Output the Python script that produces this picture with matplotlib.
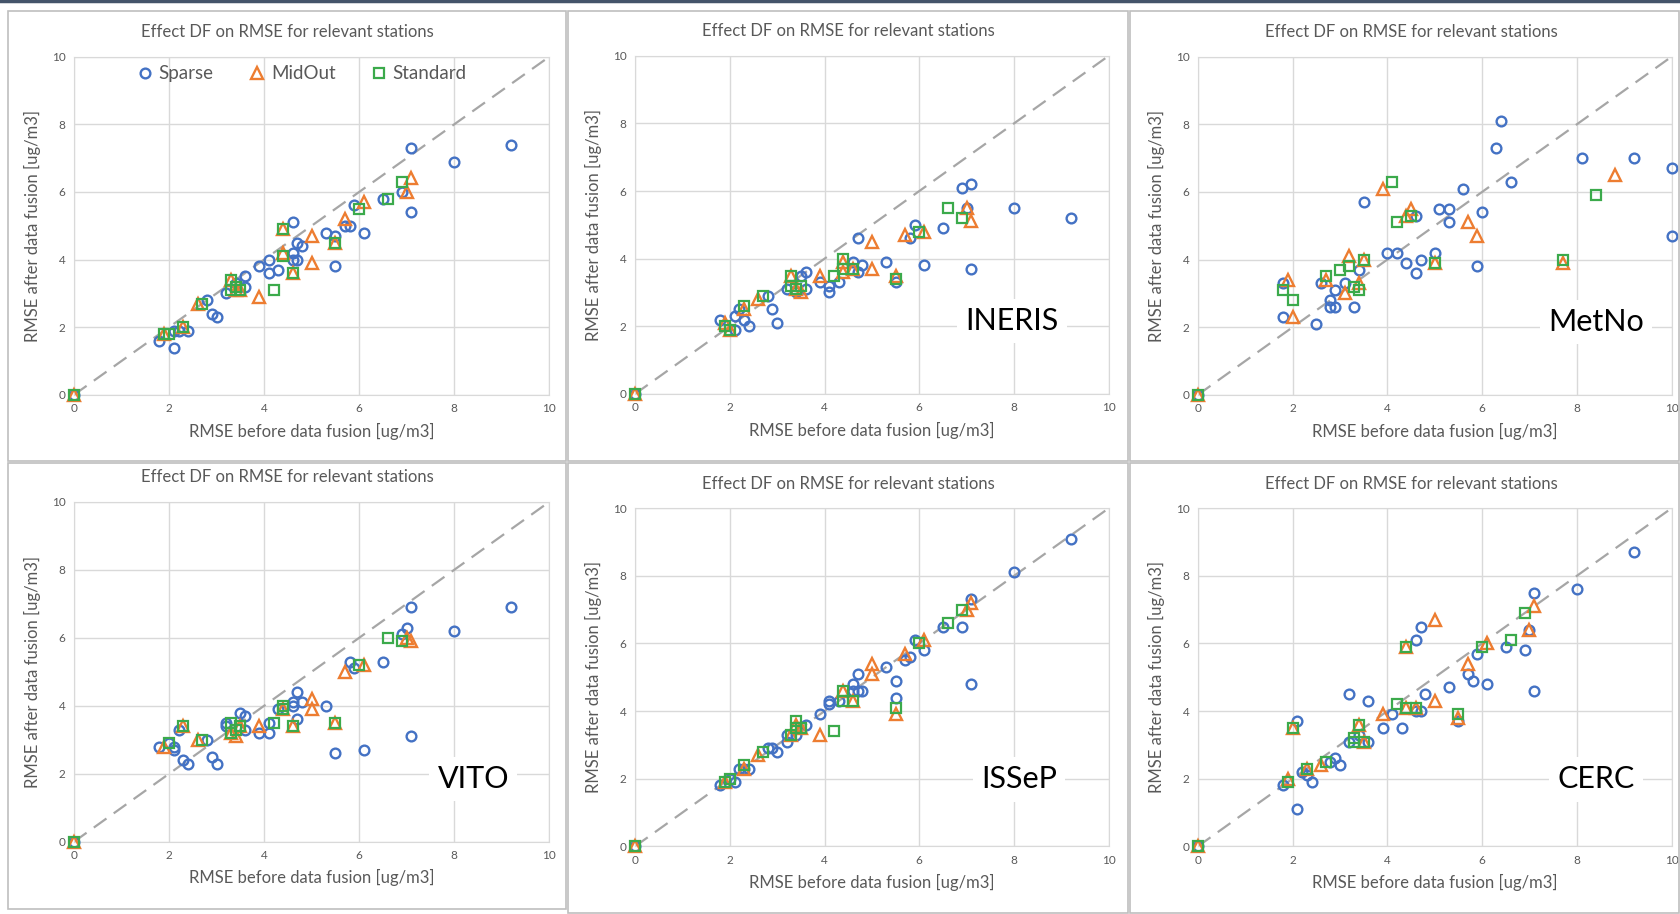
import matplotlib
matplotlib.use("Agg")
import matplotlib.pyplot as plt
from matplotlib.patches import Rectangle

plt.rcParams['font.family'] = ['Lato', 'DejaVu Sans']

# ---- data: RMSE before (x) / after (y) data fusion ----
# panel 1 (legend panel)
p1_sparse_x = [0, 1.8, 2.1, 2.1, 2.2, 2.4, 2.8, 2.9, 3.0, 3.2, 3.4, 3.6, 3.6, 3.9, 4.1, 4.1, 4.3, 4.6, 4.6, 4.6, 4.7, 4.7, 4.8, 5.3, 5.5, 5.5, 5.7, 5.8, 5.9, 6.1, 6.5, 6.9, 7.1, 7.1, 8.0, 9.2]
p1_sparse_y = [0, 1.6, 1.4, 1.9, 1.9, 1.9, 2.8, 2.4, 2.3, 3.0, 3.3, 3.5, 3.2, 3.8, 4.0, 3.6, 3.7, 5.1, 4.2, 4.0, 4.5, 4.0, 4.4, 4.8, 4.7, 3.8, 5.0, 5.0, 5.6, 4.8, 5.8, 6.0, 7.3, 5.4, 6.9, 7.4]
p1_midout_x = [0, 1.9, 2.3, 2.6, 3.3, 3.4, 3.5, 3.9, 4.4, 4.4, 4.6, 5.0, 5.0, 5.5, 5.7, 6.1, 7.0, 7.1]
p1_midout_y = [0, 1.8, 2.0, 2.7, 3.4, 3.1, 3.1, 2.9, 4.9, 4.2, 3.6, 4.7, 3.9, 4.5, 5.2, 5.7, 6.0, 6.4]
p1_standard_x = [0, 1.9, 2.0, 2.3, 2.7, 3.3, 3.3, 3.4, 3.5, 4.2, 4.4, 4.4, 4.6, 5.5, 6.0, 6.6, 6.9]
p1_standard_y = [0, 1.8, 1.8, 2.0, 2.7, 3.4, 3.1, 3.2, 3.1, 3.1, 4.9, 4.1, 3.6, 4.5, 5.5, 5.8, 6.3]

# panel 2 INERIS
p2_sparse_x = [0, 1.8, 2.1, 2.1, 2.2, 2.3, 2.4, 2.8, 2.9, 3.0, 3.2, 3.4, 3.5, 3.6, 3.6, 3.9, 4.1, 4.1, 4.3, 4.6, 4.7, 4.7, 4.8, 5.3, 5.5, 5.8, 5.9, 6.1, 6.5, 6.9, 7.1, 7.0, 7.1, 8.0, 9.2]
p2_sparse_y = [0, 2.2, 1.9, 2.3, 2.5, 2.2, 2.0, 2.9, 2.5, 2.1, 3.1, 3.0, 3.5, 3.6, 3.1, 3.3, 3.2, 3.0, 3.3, 3.9, 4.6, 3.6, 3.8, 3.9, 3.3, 4.6, 5.0, 3.8, 4.9, 6.1, 6.2, 5.5, 3.7, 5.5, 5.2]
p2_midout_x = [0, 1.9, 2.0, 2.3, 2.6, 3.3, 3.4, 3.5, 3.9, 4.4, 4.4, 4.6, 5.0, 5.0, 5.5, 5.7, 6.1, 7.0, 7.1]
p2_midout_y = [0, 2.1, 1.9, 2.5, 2.8, 3.5, 3.1, 3.0, 3.5, 3.6, 3.9, 3.7, 4.5, 3.7, 3.5, 4.7, 4.8, 5.5, 5.1]
p2_standard_x = [0, 1.9, 2.0, 2.3, 2.7, 3.3, 3.3, 3.4, 3.5, 4.2, 4.4, 4.4, 4.6, 5.5, 6.0, 6.6, 6.9]
p2_standard_y = [0, 2.0, 1.9, 2.6, 2.9, 3.5, 3.2, 3.1, 3.2, 3.5, 4.0, 3.7, 3.7, 3.4, 4.8, 5.5, 5.2]

# panel 3 MetNo
p3_sparse_x = [0, 1.8, 1.8, 2.5, 2.6, 2.8, 2.8, 2.9, 2.9, 3.1, 3.3, 3.4, 3.5, 4.0, 4.2, 4.4, 4.6, 4.6, 4.7, 5.0, 5.1, 5.3, 5.3, 5.6, 5.9, 6.0, 6.3, 6.4, 6.6, 8.1, 9.2, 10.0, 10.0]
p3_sparse_y = [0, 3.3, 2.3, 2.1, 3.3, 2.8, 2.6, 2.6, 3.1, 3.3, 2.6, 3.7, 5.7, 4.2, 4.2, 3.9, 5.3, 3.6, 4.0, 4.2, 5.5, 5.5, 5.1, 6.1, 3.8, 5.4, 7.3, 8.1, 6.3, 7.0, 7.0, 6.7, 4.7]
p3_midout_x = [0, 1.9, 2.0, 2.7, 3.1, 3.2, 3.4, 3.5, 3.9, 4.4, 4.5, 5.0, 5.7, 5.9, 7.7, 8.8]
p3_midout_y = [0, 3.4, 2.3, 3.4, 3.0, 4.1, 3.3, 4.0, 6.1, 5.3, 5.5, 3.9, 5.1, 4.7, 3.9, 6.5]
p3_standard_x = [0, 1.8, 2.0, 2.7, 3.0, 3.2, 3.3, 3.4, 3.5, 4.1, 4.2, 4.5, 5.0, 7.7, 8.4]
p3_standard_y = [0, 3.1, 2.8, 3.5, 3.7, 3.8, 3.2, 3.1, 4.0, 6.3, 5.1, 5.3, 3.9, 4.0, 5.9]

# panel 4 VITO
p4_sparse_x = [0, 1.8, 2.0, 2.1, 2.1, 2.2, 2.3, 2.4, 2.8, 2.9, 3.0, 3.2, 3.2, 3.5, 3.6, 3.6, 3.9, 4.1, 4.1, 4.3, 4.6, 4.6, 4.7, 4.7, 4.8, 5.3, 5.5, 5.8, 5.9, 6.1, 6.5, 6.9, 7.0, 7.1, 7.1, 8.0, 9.2]
p4_sparse_y = [0, 2.8, 2.9, 2.8, 2.7, 3.3, 2.4, 2.3, 3.0, 2.5, 2.3, 3.5, 3.4, 3.8, 3.7, 3.3, 3.2, 3.5, 3.2, 3.9, 4.0, 4.1, 4.4, 3.6, 4.1, 4.0, 2.6, 5.3, 5.1, 2.7, 5.3, 6.1, 6.3, 6.9, 3.1, 6.2, 6.9]
p4_midout_x = [0, 1.9, 2.3, 2.6, 3.3, 3.4, 3.5, 3.9, 4.4, 4.6, 5.0, 5.0, 5.5, 5.7, 6.1, 7.0, 7.1]
p4_midout_y = [0, 2.8, 3.4, 3.0, 3.2, 3.1, 3.4, 3.4, 3.9, 3.4, 4.2, 3.9, 3.5, 5.0, 5.2, 6.0, 5.9]
p4_standard_x = [0, 2.0, 2.3, 2.7, 3.3, 3.3, 3.4, 3.5, 4.2, 4.4, 4.4, 4.6, 5.5, 6.0, 6.6, 6.9]
p4_standard_y = [0, 2.9, 3.4, 3.0, 3.5, 3.2, 3.3, 3.4, 3.5, 4.0, 3.9, 3.4, 3.5, 5.2, 6.0, 5.9]

# panel 5 ISSeP
p5_sparse_x = [0, 1.8, 2.0, 2.1, 2.2, 2.3, 2.4, 2.8, 2.9, 3.0, 3.2, 3.2, 3.4, 3.6, 3.9, 4.1, 4.1, 4.3, 4.6, 4.6, 4.7, 4.7, 4.8, 5.3, 5.5, 5.5, 5.7, 5.8, 5.9, 6.1, 6.5, 6.9, 7.1, 7.1, 8.0, 9.2]
p5_sparse_y = [0, 1.8, 2.0, 1.9, 2.3, 2.3, 2.3, 2.9, 2.9, 2.8, 3.1, 3.3, 3.3, 3.6, 3.9, 4.3, 4.2, 4.3, 4.8, 4.6, 5.1, 4.6, 4.6, 5.3, 4.9, 4.4, 5.5, 5.6, 6.1, 5.8, 6.5, 6.5, 7.3, 4.8, 8.1, 9.1]
p5_midout_x = [0, 1.9, 2.3, 2.6, 3.3, 3.4, 3.5, 3.9, 4.4, 4.6, 5.0, 5.0, 5.5, 5.7, 6.1, 7.0, 7.1]
p5_midout_y = [0, 1.9, 2.3, 2.7, 3.3, 3.6, 3.5, 3.3, 4.6, 4.3, 5.4, 5.1, 3.9, 5.7, 6.1, 7.0, 7.2]
p5_standard_x = [0, 1.9, 2.0, 2.3, 2.7, 3.3, 3.4, 3.4, 3.5, 4.2, 4.4, 4.4, 4.6, 5.5, 6.0, 6.6, 6.9]
p5_standard_y = [0, 1.9, 2.0, 2.4, 2.8, 3.3, 3.7, 3.5, 3.5, 3.4, 4.6, 4.3, 4.3, 4.1, 6.0, 6.6, 7.0]

# panel 6 CERC
p6_sparse_x = [0, 1.8, 2.1, 2.1, 2.2, 2.3, 2.4, 2.8, 2.9, 3.0, 3.2, 3.2, 3.4, 3.6, 3.6, 3.9, 4.1, 4.3, 4.6, 4.6, 4.7, 4.7, 4.8, 5.3, 5.5, 5.7, 5.8, 5.9, 6.1, 6.5, 6.9, 7.0, 7.1, 7.1, 8.0, 9.2]
p6_sparse_y = [0, 1.8, 1.1, 3.7, 2.2, 2.1, 1.9, 2.5, 2.6, 2.4, 3.1, 4.5, 3.3, 3.1, 4.3, 3.5, 3.9, 3.5, 6.1, 4.0, 6.5, 4.0, 4.5, 4.7, 3.7, 5.1, 4.9, 5.7, 4.8, 5.9, 5.8, 6.4, 7.5, 4.6, 7.6, 8.7]
p6_midout_x = [0, 1.9, 2.0, 2.3, 2.6, 3.4, 3.5, 3.9, 4.4, 4.4, 4.6, 5.0, 5.0, 5.5, 5.7, 6.1, 7.0, 7.1]
p6_midout_y = [0, 2.0, 3.5, 2.3, 2.4, 3.6, 3.1, 3.9, 5.9, 4.1, 4.1, 6.7, 4.3, 3.8, 5.4, 6.0, 6.4, 7.1]
p6_standard_x = [0, 1.9, 2.0, 2.3, 2.7, 3.3, 3.3, 3.4, 3.5, 4.2, 4.4, 4.4, 4.6, 5.5, 6.0, 6.6, 6.9]
p6_standard_y = [0, 1.9, 3.5, 2.3, 2.5, 3.2, 3.1, 3.6, 3.1, 4.2, 5.9, 4.1, 4.1, 3.9, 5.9, 6.1, 6.9]

panel_names = ["", "INERIS", "MetNo", "VITO", "ISSeP", "CERC"]
series_names = ["Sparse", "MidOut", "Standard"]

BLUE = '#4472C4'
ORANGE = '#ED7D31'
GREEN = '#3BAA4B'
GREY_TXT = '#595959'
GRID = '#D9D9D9'

#axes positions [left, bottom, width, height] in figure fractions
axes_pos = [
    [0.044, 0.568, 0.283, 0.370],
    [0.378, 0.569, 0.282, 0.370],
    [0.713, 0.568, 0.282, 0.370],
    [0.044, 0.079, 0.283, 0.372],
    [0.378, 0.074, 0.282, 0.370],
    [0.713, 0.074, 0.282, 0.370],
]
# grey frame around each chart (pixels: x0, y0_top, x1, y1_bottom)
frames = [
    (8, 11, 566, 461), (568, 11, 1128, 461), (1130, 11, 1679, 461),
    (8, 463, 566, 909), (568, 463, 1128, 913), (1130, 463, 1679, 913),
]
label_pos = [None, (0.795, 0.216), (0.84, 0.216), (0.84, 0.185), (0.81, 0.198), (0.84, 0.198)]

data = [
    (p1_sparse_x, p1_sparse_y, p1_midout_x, p1_midout_y, p1_standard_x, p1_standard_y),
    (p2_sparse_x, p2_sparse_y, p2_midout_x, p2_midout_y, p2_standard_x, p2_standard_y),
    (p3_sparse_x, p3_sparse_y, p3_midout_x, p3_midout_y, p3_standard_x, p3_standard_y),
    (p4_sparse_x, p4_sparse_y, p4_midout_x, p4_midout_y, p4_standard_x, p4_standard_y),
    (p5_sparse_x, p5_sparse_y, p5_midout_x, p5_midout_y, p5_standard_x, p5_standard_y),
    (p6_sparse_x, p6_sparse_y, p6_midout_x, p6_midout_y, p6_standard_x, p6_standard_y),
]

W, H = 1680, 914
fig = plt.figure(figsize=(W / 100, H / 100), dpi=100)
fig.patch.set_facecolor('white')

# dark line along the top edge
fig.add_artist(plt.Line2D([0, 1], [0.999, 0.999], color='#44546A', lw=2.5))

for x0, y0, x1, y1 in frames:
    fig.add_artist(Rectangle((x0 / W, 1 - y1 / H), (x1 - x0) / W, (y1 - y0) / H,
                             fill=False, edgecolor='#BFBFBF', lw=1.2))

for k in range(6):
    ax = fig.add_axes(axes_pos[k])
    sx, sy, mx, my, tx, ty = data[k]
    ax.plot([0, 10], [0, 10], color='#A6A6A6', lw=1.6, dashes=(7, 4), zorder=2)
    ax.plot(sx, sy, 'o', ls='none', mfc='none', mec=BLUE, mew=1.7, ms=7, label=series_names[0], zorder=3, clip_on=False)
    ax.plot(mx, my, '^', ls='none', mfc='none', mec=ORANGE, mew=1.7, ms=8, label=series_names[1], zorder=3, clip_on=False)
    ax.plot(tx, ty, 's', ls='none', mfc='none', mec=GREEN, mew=1.6, ms=6.5, label=series_names[2], zorder=3, clip_on=False)
    ax.set_xlim(0, 10)
    ax.set_ylim(0, 10)
    ax.set_xticks(range(0, 11, 2))
    ax.set_yticks(range(0, 11, 2))
    ax.grid(True, color=GRID, lw=1.0, zorder=0)
    for sp in ax.spines.values():
        sp.set_color(GRID)
    ax.tick_params(length=0, labelsize=8.5, colors=GREY_TXT, pad=6)
    # Excel centres the title over the whole chart area, a bit left of the plot centre
    ax.set_title("Effect DF on RMSE for relevant stations", fontsize=12, color=GREY_TXT, pad=14, x=0.45)
    ax.set_xlabel("RMSE before data fusion [ug/m3]", fontsize=12, color=GREY_TXT, labelpad=6)
    ax.set_ylabel("RMSE after data fusion [ug/m3]", fontsize=12, color=GREY_TXT, labelpad=8)
    if k == 0:
        ax.legend(loc='center', bbox_to_anchor=(0.476, 0.95), ncol=3, frameon=False,
                  fontsize=13.5, handletextpad=0.15, columnspacing=1.7, labelcolor=GREY_TXT,
                  handlelength=1.2)
    else:
        lx, ly = label_pos[k]
        ax.text(lx, ly, panel_names[k], transform=ax.transAxes, fontsize=22,
                ha='center', va='center', color='black', zorder=5,
                bbox=dict(facecolor='white', edgecolor='none', pad=6))

fig.savefig('out.png', dpi=100)
